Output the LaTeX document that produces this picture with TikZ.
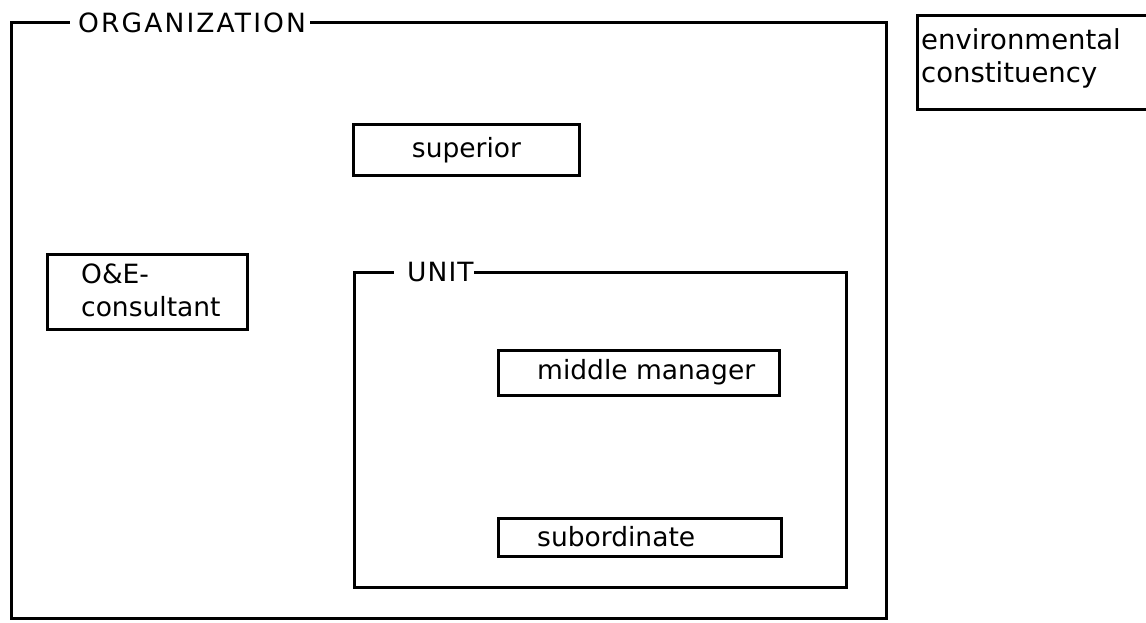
\documentclass[tikz,border=0pt]{standalone}
\usepackage{fontspec}
\setmainfont{DejaVu Sans}
\begin{document}
\begin{tikzpicture}[x=1pt,y=-1pt,
  outline/.style={draw, line width=3pt, line join=miter, line cap=rect},
  box/.style={draw, line width=3pt, inner sep=0pt, outer sep=0pt, anchor=north west},
  lbl/.style={font=\fontsize{26.5}{33}\selectfont, inner sep=0pt, anchor=west, align=left},
  title/.style={lbl, inner xsep=0pt}]
\useasboundingbox (0,0) rectangle (1146,622);

% organization title, with the frame drawn round from its right end to its left end
\node[title, font=\fontsize{26.5}{33}\selectfont\addfontfeature{LetterSpace=8}] (orgt) at (78,22.5) {ORGANIZATION};
\draw[outline] ([xshift=5pt]orgt.east) -- (886.5,22.5) -- (886.5,618.5) -- (11.5,618.5) -- (11.5,22.5) -- ([xshift=-10pt]orgt.west);

% environment, outside the organization
\node[box, minimum width=240pt, minimum height=94pt] (env) at (917.5,15.5) {};
\node[lbl, font=\fontsize{27.5}{33}\selectfont] (envt) at (921,58) {environmental\\constituency};

% superior
\node[box, minimum width=226pt, minimum height=51pt] (sup) at (353.5,124.5) {};
\node[lbl, anchor=center] (supt) at (sup.center) {superior};

% consultant
\node[box, minimum width=200pt, minimum height=75pt] (cons) at (47.5,254.5) {};
\node[lbl] (const) at (81,290) {O\&E-\\consultant};

% unit frame and its title
\node[title, font=\fontsize{26.5}{33}\selectfont\addfontfeature{LetterSpace=4}] (unitt) at (407,272.5) {UNIT};
\draw[outline] ([xshift=2pt]unitt.east) -- (846.5,272.5) -- (846.5,587.5) -- (354.5,587.5) -- (354.5,272.5) -- ([xshift=-15pt]unitt.west);

% members of the unit
\node[box, minimum width=281pt, minimum height=45pt] (mid) at (498.5,350.5) {};
\node[lbl] (midt) at (537,372) {middle manager};
\node[box, minimum width=283pt, minimum height=38pt] (sub) at (498.5,518.5) {};
\node[lbl] (subt) at (537,537) {subordinate};
\end{tikzpicture}
\end{document}
